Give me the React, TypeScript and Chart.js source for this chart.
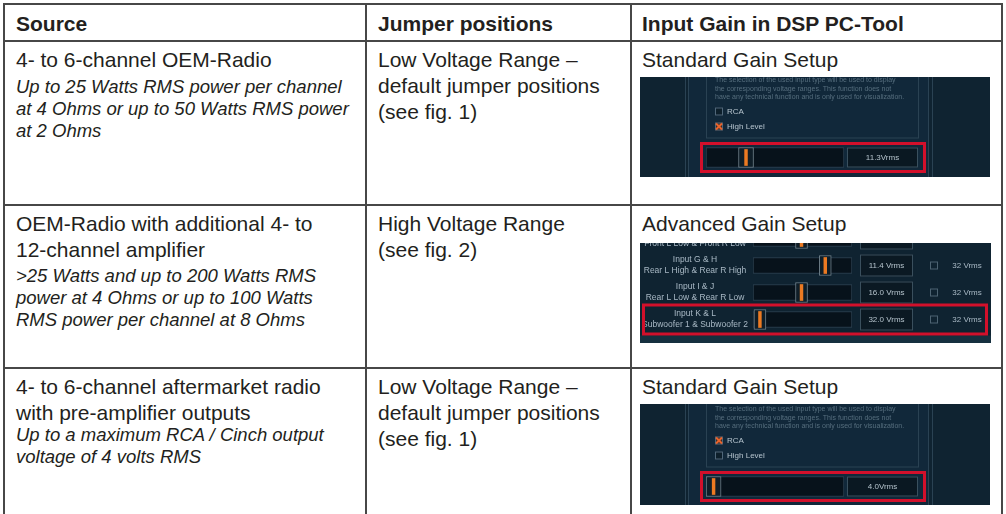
import React, { useEffect, useRef } from "react";
import { Chart, registerables } from "chart.js";

Chart.register(...registerables);

// ---------------- table text ----------------
const headers = ["Source", "Jumper positions", "Input Gain in DSP PC-Tool"];
const sourceMain = [
  ["4- to 6-channel OEM-Radio"],
  ["OEM-Radio with additional 4- to", "12-channel amplifier"],
  ["4- to 6-channel aftermarket radio", "with pre-amplifier outputs"],
];
const sourceNote = [
  ["Up to 25 Watts RMS power per channel", "at 4 Ohms or up to 50 Watts RMS power", "at 2 Ohms"],
  [">25 Watts and up to 200 Watts RMS", "power at 4 Ohms or up to 100 Watts", "RMS power per channel at 8 Ohms"],
  ["Up to a maximum RCA / Cinch output", "voltage of 4 volts RMS"],
];
const jumperText = [
  ["Low Voltage Range –", "default jumper positions", "(see fig. 1)"],
  ["High Voltage Range", "(see fig. 2)"],
  ["Low Voltage Range –", "default jumper positions", "(see fig. 1)"],
];
const gainTitles = ["Standard Gain Setup", "Advanced Gain Setup", "Standard Gain Setup"];

// ---------------- DSP PC-Tool screenshots (slider data) ----------------
const descLines = [
  "The selection of the used input type will be used to display",
  "the corresponding voltage ranges. This function does not",
  "have any technical function and is only used for visualization.",
];
const checkLabels = ["RCA", "High Level"];

const std1Labels = ["Input gain"];
const std1Pos = [0.29];
const std1Val = ["11.3Vrms"];
const std1Checks = [false, true];

const advLabels = [
  ["Input E & F", "Front L Low & Front R Low"],
  ["Input G & H", "Rear L High & Rear R High"],
  ["Input I & J", "Rear L Low & Rear R Low"],
  ["Input K & L", "Subwoofer 1 & Subwoofer 2"],
];
const advPos = [0.49, 0.73, 0.49, 0.07];
const advVal = ["", "11.4 Vrms", "16.0 Vrms", "32.0 Vrms"];
const advMax = ["32 Vrms", "32 Vrms", "32 Vrms", "32 Vrms"];

const std3Labels = ["Input gain"];
const std3Pos = [0.055];
const std3Val = ["4.0Vrms"];
const std3Checks = [true, false];

// ---------------- styles ----------------
const FONT = '"Liberation Sans", Arial, Helvetica, sans-serif';
const INK = "#231f20";
const RULE = "#474747";
const PANEL_BG = "#0f2331";
const RED = "#d2102b";

function vline(ctx: any, x: number, h: number) {
  ctx.beginPath();
  ctx.moveTo(x + 0.5, 0);
  ctx.lineTo(x + 0.5, h);
  ctx.stroke();
}

function stdDecor(val: string, checks: boolean[]) {
  return {
    before(c: any) {
      const { ctx, chartArea: ca, width, height } = c;
      const cy = c.scales.y.getPixelForValue(0);
      ctx.save();
      ctx.fillStyle = PANEL_BG;
      ctx.fillRect(0, 0, width, height);
      ctx.fillStyle = "#11283a";
      ctx.fillRect(ca.left - 18, 0, ca.right + 84 - (ca.left - 18), height);
      ctx.strokeStyle = "#2a4253";
      ctx.lineWidth = 1;
      [ca.left - 21, ca.left - 18, ca.right + 84, ca.right + 88].forEach((x) => vline(ctx, x, height));
      ctx.strokeRect(ca.left + 0.5, -4.5, ca.right + 74 - ca.left, cy - 19 + 4);
      ctx.font = `7px ${FONT}`;
      ctx.fillStyle = "#566e7e";
      ctx.textBaseline = "middle";
      ctx.textAlign = "left";
      descLines.forEach((t, i) => ctx.fillText(t, ca.left + 9, cy - 77 + i * 8.5));
      checkLabels.forEach((t, i) => {
        const by = cy - 46 + i * 15;
        const bx = ca.left + 9;
        ctx.fillStyle = checks[i] ? "#3d2a22" : "#0d1f2b";
        ctx.fillRect(bx, by - 4, 8, 8);
        ctx.strokeStyle = "#50677a";
        ctx.lineWidth = 1;
        ctx.strokeRect(bx + 0.5, by - 3.5, 7, 7);
        if (checks[i]) {
          ctx.strokeStyle = "#e8632c";
          ctx.lineWidth = 2;
          ctx.beginPath();
          ctx.moveTo(bx + 1, by - 3);
          ctx.lineTo(bx + 7, by + 3);
          ctx.moveTo(bx + 7, by - 3);
          ctx.lineTo(bx + 1, by + 3);
          ctx.stroke();
          ctx.lineWidth = 1;
        }
        ctx.fillStyle = "#b6c4ce";
        ctx.font = `8px ${FONT}`;
        ctx.fillText(t, bx + 12, by);
      });
      ctx.restore();
    },
    after(c: any) {
      const { ctx, chartArea: ca } = c;
      const cy = c.scales.y.getPixelForValue(0);
      ctx.save();
      ctx.fillStyle = "#0a1822";
      ctx.fillRect(ca.right + 3, cy - 10, 71, 20);
      ctx.strokeStyle = "#3a505e";
      ctx.lineWidth = 1;
      ctx.strokeRect(ca.right + 3.5, cy - 9.5, 70, 19);
      ctx.fillStyle = "#b5c3cc";
      ctx.font = `8px ${FONT}`;
      ctx.textAlign = "center";
      ctx.textBaseline = "middle";
      ctx.fillText(val, ca.right + 38.5, cy + 0.5);
      ctx.strokeStyle = RED;
      ctx.lineWidth = 3;
      ctx.strokeRect(ca.left - 6 + 1.5, cy - 15.5 + 1.5, ca.right + 82 - (ca.left - 6) - 3, 31 - 3);
      ctx.restore();
    },
  };
}

function advDecor(rows: string[][], vals: string[], maxes: string[]) {
  return {
    before(c: any) {
      const { ctx, chartArea: ca, width, height } = c;
      const y = c.scales.y;
      ctx.save();
      ctx.fillStyle = PANEL_BG;
      ctx.fillRect(0, 0, width, height);
      ctx.textBaseline = "middle";
      rows.forEach((r, i) => {
        const cy = y.getPixelForValue(i);
        ctx.fillStyle = "#a9b9c5";
        ctx.font = `8.5px ${FONT}`;
        ctx.textAlign = "center";
        ctx.fillText(r[0], ca.left - 58, cy - 5.5);
        ctx.fillText(r[1], ca.left - 58, cy + 5.5);
        ctx.fillStyle = "#0b1923";
        ctx.fillRect(ca.right + 8, cy - 11, 53, 22);
        ctx.strokeStyle = "#3a4f5d";
        ctx.lineWidth = 1;
        ctx.strokeRect(ca.right + 8.5, cy - 10.5, 52, 21);
        ctx.fillStyle = "#b5c3cc";
        ctx.font = `8px ${FONT}`;
        ctx.fillText(vals[i], ca.right + 34.5, cy + 0.5);
        ctx.strokeStyle = "#4d6372";
        ctx.strokeRect(ca.right + 78.5, cy - 3.5, 7, 7);
        ctx.fillStyle = "#a9b9c5";
        ctx.fillText(maxes[i], ca.right + 115, cy);
      });
      const last = y.getPixelForValue(rows.length - 1);
      ctx.fillStyle = "#16303f";
      ctx.fillRect(0, last + 16, width, height - last - 16);
      ctx.restore();
    },
    after(c: any) {
      const { ctx, chartArea: ca } = c;
      const cy = c.scales.y.getPixelForValue(rows.length - 1);
      ctx.save();
      ctx.strokeStyle = RED;
      ctx.lineWidth = 3;
      ctx.strokeRect(ca.left - 111 + 1.5, cy - 16 + 1.5, ca.right + 136 - (ca.left - 111) - 3, 32 - 3);
      ctx.restore();
    },
  };
}

type GainProps = {
  width: number;
  height: number;
  offsetY: number;
  padding: { left: number; right: number; top: number; bottom: number };
  labels: string[];
  pos: number[];
  trackH: number;
  handleW: number;
  handleH: number;
  decor: { before: (c: any) => void; after: (c: any) => void };
};

function GainChart(p: GainProps) {
  const ref = useRef<HTMLCanvasElement>(null);
  useEffect(() => {
    const trackW = p.width - p.padding.left - p.padding.right;
    const hw = p.handleW / 2 / trackW;
    const nw = 1.4 / trackW;
    const chart = new Chart(ref.current as HTMLCanvasElement, {
      type: "bar",
      data: {
        labels: p.labels,
        datasets: [
          {
            label: "track",
            data: p.labels.map(() => [0, 1]) as any,
            backgroundColor: "#07121b",
            borderColor: "#2e4252",
            borderWidth: 1,
            borderSkipped: false,
            barThickness: p.trackH,
            grouped: false,
            order: 3,
          },
          {
            label: "handle",
            data: p.pos.map((v) => [v - hw, v + hw]) as any,
            backgroundColor: "#0f1e28",
            borderColor: "#6f7f89",
            borderWidth: 1,
            borderSkipped: false,
            barThickness: p.handleH,
            grouped: false,
            order: 2,
          },
          {
            label: "needle",
            data: p.pos.map((v) => [v - nw, v + nw]) as any,
            backgroundColor: "#ec7a22",
            borderWidth: 0,
            barThickness: p.handleH - 4,
            grouped: false,
            order: 1,
          },
        ],
      },
      options: {
        indexAxis: "y",
        animation: false,
        responsive: false,
        events: [],
        layout: { padding: p.padding },
        scales: {
          x: { display: false, min: 0, max: 1 },
          y: { display: false },
        },
        plugins: { legend: { display: false }, tooltip: { enabled: false } },
      } as any,
      plugins: [
        {
          id: "decor",
          beforeDraw: (c: any) => p.decor.before(c),
          afterDatasetsDraw: (c: any) => p.decor.after(c),
        },
      ],
    });
    return () => chart.destroy();
  }, []);
  return (
    <canvas
      ref={ref}
      width={p.width}
      height={p.height}
      style={{ position: "absolute", left: 0, top: p.offsetY, width: p.width, height: p.height, display: "block" }}
    />
  );
}

function TextLine(props: { x: number; base: number; size: number; text: string; bold?: boolean; italic?: boolean }) {
  const { x, base, size, text, bold, italic } = props;
  return (
    <div
      style={{
        position: "absolute",
        left: x,
        top: base - 0.8465 * size,
        fontFamily: FONT,
        fontSize: size,
        lineHeight: `${size}px`,
        fontWeight: bold ? 700 : 400,
        fontStyle: italic ? "italic" : "normal",
        whiteSpace: "nowrap",
        color: INK,
      }}
    >
      {text}
    </div>
  );
}

// layout
const colX = [16, 378, 642];
const hLines = [3, 40, 204, 367];
const vLines = [3, 365, 630, 1001];
const firstBase = [67, 231, 393.5];
const REG = 21;
const ITA = 18.5;
const regStep = 26;
const itaStep = 22;
const noteGap = [27, 26, 22];
const panelTop = [77, 243, 404];

export default function App() {
  const els: any[] = [];
  hLines.forEach((y, i) =>
    els.push(<div key={"h" + i} style={{ position: "absolute", left: 3, top: y, width: 1000, height: 2, background: RULE }} />)
  );
  vLines.forEach((x, i) =>
    els.push(<div key={"v" + i} style={{ position: "absolute", left: x, top: 3, width: 2, height: 520, background: RULE }} />)
  );
  headers.forEach((t, i) => els.push(<TextLine key={"hd" + i} x={colX[i]} base={31} size={REG} text={t} bold />));
  sourceMain.forEach((lines, r) => {
    lines.forEach((t, k) =>
      els.push(<TextLine key={`sm${r}${k}`} x={colX[0]} base={firstBase[r] + k * regStep} size={REG} text={t} />)
    );
    const b0 = firstBase[r] + (lines.length - 1) * regStep + noteGap[r];
    sourceNote[r].forEach((t, k) =>
      els.push(<TextLine key={`sn${r}${k}`} x={colX[0]} base={b0 + k * itaStep} size={ITA} text={t} italic />)
    );
  });
  jumperText.forEach((lines, r) =>
    lines.forEach((t, k) =>
      els.push(<TextLine key={`j${r}${k}`} x={colX[1]} base={firstBase[r] + k * regStep} size={REG} text={t} />)
    )
  );
  gainTitles.forEach((t, r) => els.push(<TextLine key={"g" + r} x={colX[2]} base={firstBase[r]} size={REG} text={t} />));

  return (
    <div style={{ position: "fixed", left: 0, top: 0, width: 1006, height: 514, background: "#fff", overflow: "hidden" }}>
      {els}
      <div style={{ position: "absolute", left: 640, top: panelTop[0], width: 350, height: 100, overflow: "hidden" }}>
        <GainChart
          width={350}
          height={100}
          offsetY={0}
          padding={{ left: 66, right: 146, top: 70, bottom: 9 }}
          labels={std1Labels}
          pos={std1Pos}
          trackH={20}
          handleW={15}
          handleH={20}
          decor={stdDecor(std1Val[0], std1Checks)}
        />
      </div>
      <div style={{ position: "absolute", left: 640, top: panelTop[1], width: 351, height: 100, overflow: "hidden" }}>
        <GainChart
          width={351}
          height={118}
          offsetY={-18}
          padding={{ left: 113, right: 139, top: 0, bottom: 10 }}
          labels={advLabels.map((r) => r.join(" "))}
          pos={advPos}
          trackH={16}
          handleW={12}
          handleH={20}
          decor={advDecor(advLabels, advVal, advMax)}
        />
      </div>
      <div style={{ position: "absolute", left: 640, top: panelTop[2], width: 350, height: 101, overflow: "hidden" }}>
        <GainChart
          width={350}
          height={101}
          offsetY={0}
          padding={{ left: 66, right: 146, top: 72, bottom: 8 }}
          labels={std3Labels}
          pos={std3Pos}
          trackH={20}
          handleW={15}
          handleH={20}
          decor={stdDecor(std3Val[0], std3Checks)}
        />
      </div>
    </div>
  );
}
